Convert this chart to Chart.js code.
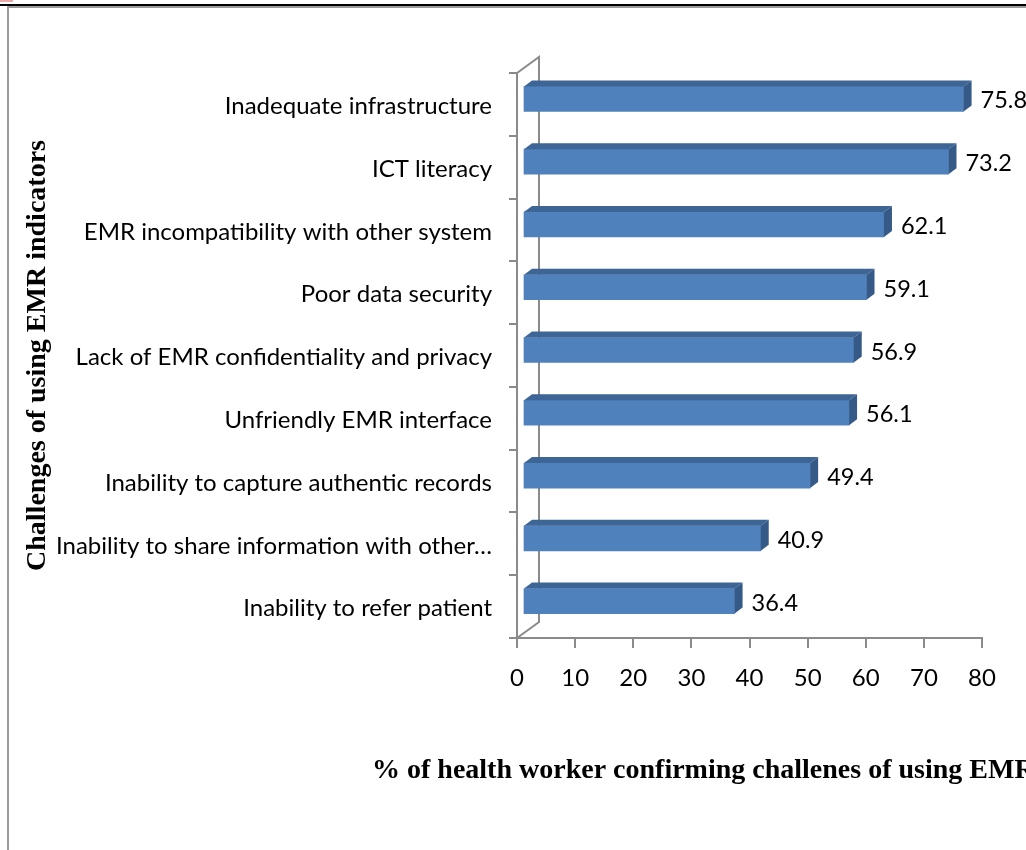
<!DOCTYPE html>
<html><head><meta charset="utf-8">
<script src="https://cdn.jsdelivr.net/npm/chart.js@4.4.1/dist/chart.umd.min.js"></script>
<style>
html,body{margin:0;padding:0;background:#fff;}
#wrap{position:relative;width:1026px;height:850px;overflow:hidden;background:#fff;}
canvas{position:absolute;left:0;top:0;}
.l{position:absolute;}
</style></head><body>
<div id="wrap">
<canvas id="c" width="1026" height="850"></canvas>
<div class="l" style="left:0;top:4px;width:1026px;height:2px;background:#000"></div>
<div class="l" style="left:7px;top:6px;width:1019px;height:2px;background:#9a9a9a"></div>
<div class="l" style="left:7px;top:6px;width:2px;height:844px;background:#9a9a9a"></div>
<div class="l" style="left:0;top:0;width:13px;height:2px;background:#e8a8a8"></div>
</div>
<script>
const categories = [
  "Inadequate infrastructure",
  "ICT literacy",
  "EMR incompatibility with other system",
  "Poor data security",
  "Lack of EMR confidentiality and privacy",
  "Unfriendly EMR interface",
  "Inability to capture authentic records",
  "Inability to share information with other…",
  "Inability to refer patient"
];
const values = [75.8, 73.2, 62.1, 59.1, 56.9, 56.1, 49.4, 40.9, 36.4];
const xTickMin = 0;
const xTickMax = 80;
const xTickStep = 10;
const yTitle = "Challenges of using EMR indicators";
const xTitle = "% of health worker confirming challenes of using EMR";

const LABEL_FONT = "Lato";
const LABEL_SIZE = 24;
const VALUE_SIZE = 23.5;
const AXIS_GRAY = "#8a8a8a";

const bar3d = {
  id: 'bar3d',
  beforeDatasetsDraw(chart) {
    const {ctx, chartArea: a} = chart;
    ctx.save();
    ctx.strokeStyle = AXIS_GRAY; ctx.lineWidth = 2;
    ctx.beginPath();
    ctx.moveTo(a.left, a.top); ctx.lineTo(a.left + 22, a.top - 16);
    ctx.lineTo(a.left + 22, a.bottom - 16); ctx.lineTo(a.left, a.bottom);
    ctx.stroke();
    ctx.restore();
    ctx.save();
    ctx.translate(6, -5.5);
  },
  afterDatasetsDraw(chart) {
    const {ctx} = chart;
    const meta = chart.getDatasetMeta(0);
    meta.data.forEach((bar, i) => {
      const p = bar.getProps(['x', 'y', 'base', 'height'], true);
      const t = p.y - p.height / 2, b = p.y + p.height / 2;
      ctx.fillStyle = '#3d6595';
      ctx.beginPath();
      ctx.moveTo(p.base, t); ctx.lineTo(p.x, t); ctx.lineTo(p.x + 8, t - 6); ctx.lineTo(p.base + 8, t - 6);
      ctx.closePath(); ctx.fill();
      ctx.fillStyle = '#355a87';
      ctx.beginPath();
      ctx.moveTo(p.x, t); ctx.lineTo(p.x + 8, t - 6); ctx.lineTo(p.x + 8, b - 6); ctx.lineTo(p.x, b);
      ctx.closePath(); ctx.fill();
      ctx.fillStyle = '#000';
      ctx.font = VALUE_SIZE + 'px ' + LABEL_FONT;
      ctx.textBaseline = 'middle'; ctx.textAlign = 'left';
      ctx.fillText(values[i].toFixed(1), p.x + 8 + 9, p.y + 2);
    });
    ctx.restore();
  },
  afterDraw(chart) {
    const {ctx} = chart;
    ctx.save();
    ctx.fillStyle = '#000';
    ctx.font = 'bold 28px "Liberation Serif"';
    ctx.textBaseline = 'middle'; ctx.textAlign = 'left';
    ctx.fillText(xTitle, 372, 771);
    ctx.restore();
  }
};

new Chart(document.getElementById('c'), {
  type: 'bar',
  data: {
    labels: categories,
    datasets: [{
      data: values,
      backgroundColor: '#4f81bd',
      borderWidth: 0,
      barThickness: 25
    }]
  },
  options: {
    indexAxis: 'y',
    responsive: false,
    animation: false,
    devicePixelRatio: 1,
    layout: {padding: {left: 20, right: 44, top: 73, bottom: 0}},
    plugins: {legend: {display: false}, tooltip: {enabled: false}},
    scales: {
      x: {
        min: xTickMin, max: xTickMax,
        ticks: {stepSize: xTickStep, color: '#000', font: {family: LABEL_FONT, size: LABEL_SIZE}, padding: 16},
        grid: {drawOnChartArea: false, drawTicks: true, tickLength: 10, color: AXIS_GRAY, lineWidth: 2},
        border: {display: true, color: AXIS_GRAY, width: 2},
        afterFit(s) { s.height = 212; }
      },
      y: {
        ticks: {color: '#000', font: {family: LABEL_FONT, size: LABEL_SIZE}, padding: 17, autoSkip: false, labelOffset: 2},
        grid: {drawOnChartArea: false, drawTicks: true, tickLength: 8, color: AXIS_GRAY, lineWidth: 2, offset: true},
        border: {display: true, color: AXIS_GRAY, width: 2},
        title: {display: true, text: yTitle, color: '#000', font: {family: 'Liberation Serif', size: 28, weight: 'bold'}, padding: {top: 1, bottom: 0}},
        afterFit(s) { s.width = 497; }
      }
    }
  },
  plugins: [bar3d]
});
</script>
</body></html>
